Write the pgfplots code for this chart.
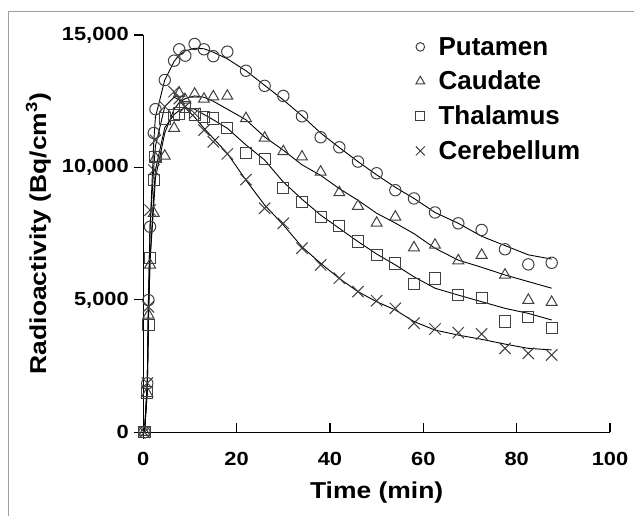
\documentclass[border=0pt]{standalone}
\usepackage{pgfplots}
\pgfplotsset{compat=1.18}
\usepackage{pgfplotstable}
\usepackage{fontspec}
\setmainfont{Liberation Sans}
\newfontfamily\widebf{Liberation Sans Bold}[FakeStretch=1.15]

\pgfplotstableread{
t data fit
0.25 0 0
0.85 1850 1850
1.1 4990 5000
1.45 7760 7700
2.25 11300 11000
2.6 12200 11900
4.6 13300 13300
6.6 14030 14000
7.7 14460 14250
9 14220 14400
11 14660 14500
13 14460 14480
15 14200 14350
18 14370 14100
22 13650 13650
26 13080 13100
30 12700 12550
34 11930 11950
38 11140 11300
42 10760 10750
46 10220 10220
50 9780 9720
54 9140 9250
58 8830 8830
62.5 8300 8300
67.5 7890 7890
72.5 7640 7400
77.5 6910 7050
82.5 6340 6700
87.5 6400 6540
}\putamen

\pgfplotstableread{
t data fit
0.25 0 0
0.85 1470 1500
1.1 4430 4400
1.45 6320 6500
2.25 8270 8600
2.6 10350 9600
4.6 10430 11300
6.6 11480 12200
7.7 12800 12450
9 12550 12600
11 12770 12700
13 12580 12650
15 12670 12500
18 12695 12200
22 11850 11800
26 11110 11150
30 10600 10650
34 10400 10100
38 9830 9700
42 9050 9200
46 8540 8760
50 7900 8270
54 8130 7900
58 6970 7500
62.5 7070 6950
67.5 6480 6500
72.5 6690 6230
77.5 5940 5940
82.5 4990 5690
87.5 4910 5440
}\caudate

\pgfplotstableread{
t data fit
0.25 0 0
0.85 1500 1500
1.1 4050 4100
1.45 6570 6500
2.25 9520 9000
2.6 10400 9900
4.6 11850 11500
6.6 11980 12000
7.7 12040 12150
9 12290 12250
11 12000 12200
13 11910 12000
15 11850 11800
18 11480 11480
22 10530 10850
26 10310 10280
30 9210 9450
34 8700 8800
38 8120 8200
42 7790 7700
46 7200 7200
50 6690 6730
54 6370 6320
58 5600 5870
62.5 5810 5440
67.5 5180 5180
72.5 5060 4930
77.5 4180 4680
82.5 4340 4490
87.5 3950 4240
}\thalamus

\pgfplotstableread{
t data fit
0.25 0 0
0.85 1860 1900
1.1 4740 4800
1.45 8390 7800
2.25 9900 10000
2.6 11030 10800
4.6 12300 12300
6.6 12860 12650
7.7 12600 12550
9 12300 12250
11 12040 11900
13 11410 11480
15 10970 11100
18 10510 10530
22 9540 9520
26 8460 8580
30 7890 7830
34 6950 7000
38 6320 6380
42 5820 5810
46 5310 5310
50 4970 4930
54 4680 4620
58 4120 4180
62.5 3900 3860
67.5 3760 3670
72.5 3710 3510
77.5 3170 3330
82.5 2980 3170
87.5 2920 3110
}\cerebellum

\pgfplotsset{
  leg/.style={legend image code/.code={%
    \draw[##1,mark size=#1] plot coordinates {(0pt,0pt)};
    \path (-5pt,0pt) (16pt,0pt);}},
}

\begin{document}
\begin{tikzpicture}
\useasboundingbox (-143.3pt,-82.7pt) rectangle (490.7pt,432.3pt);
\draw[black!38, line width=1.2pt] (-135pt,420.6pt) rectangle (520pt,-120pt);
\begin{axis}[
  at={(0pt,0pt)}, anchor=south west,
  scale only axis,
  width=466.7pt, height=397.3pt,
  xmin=0, xmax=100, ymin=0, ymax=15000,
  clip=false,
  axis x line=bottom, axis y line=left,
  axis line style={-, line width=1.2pt, black},
  xtick={0,20,40,60,80,100},
  ytick={0,5000,10000,15000},
  tick align=outside,
  major tick length=9pt,
  every tick/.style={black, line width=1.2pt},
  xtick style={yshift=9pt},
  scaled ticks=false,
  /pgf/number format/assume math mode=true,
  /pgf/number format/1000 sep={,},
  tick label style={font=\widebf\fontsize{19}{21}\selectfont},
  xticklabel style={anchor=base, yshift=-24pt},
  yticklabel style={anchor=east, xshift=-2pt},
  xlabel={Time (min)},
  ylabel={Radioactivity (Bq/cm\textsuperscript{3})},
  label style={font=\widebf\fontsize{23}{26}\selectfont},
  xlabel style={at={(axis description cs:0.5,0)}, anchor=center, yshift=-60pt},
  ylabel style={at={(axis description cs:0,0.5)}, anchor=center, yshift=105pt},
  legend style={at={(0.582,1.0)}, anchor=north west, draw=none, fill=none,
    inner sep=0pt, row sep=10.5pt,
    font=\bfseries\fontsize{26}{30}\selectfont,
    nodes={inner sep=2pt},
    cells={anchor=west}},
  legend cell align=left,
]
\draw[black, line width=1.2pt] (axis cs:0,0) -- ++(0pt,-7pt);
\addplot[black, line width=0.9pt, forget plot] table[x=t, y=fit] {\putamen};
\addplot[black, line width=0.9pt, forget plot] table[x=t, y=fit] {\caudate};
\addplot[black, line width=0.9pt, forget plot] table[x=t, y=fit] {\thalamus};
\addplot[black, line width=0.9pt, forget plot] table[x=t, y=fit] {\cerebellum};

\addplot[only marks, mark=o, mark size=5.7pt, mark options={draw=black!75, line width=1pt}, leg=4.3pt] table[x=t, y=data] {\putamen};
\addplot[only marks, mark=triangle, mark size=6.3pt, mark options={draw=black!75, line width=1pt}, leg=5pt] table[x=t, y=data] {\caudate};
\addplot[only marks, mark=square, mark size=5.6pt, mark options={draw=black!75, line width=1pt}, leg=4.4pt] table[x=t, y=data] {\thalamus};
\addplot[only marks, mark=x, mark size=8pt, mark options={draw=black!75, line width=1pt}, leg=6.3pt] table[x=t, y=data] {\cerebellum};
\legend{Putamen, Caudate, Thalamus, Cerebellum}
\end{axis}
\end{tikzpicture}
\end{document}
